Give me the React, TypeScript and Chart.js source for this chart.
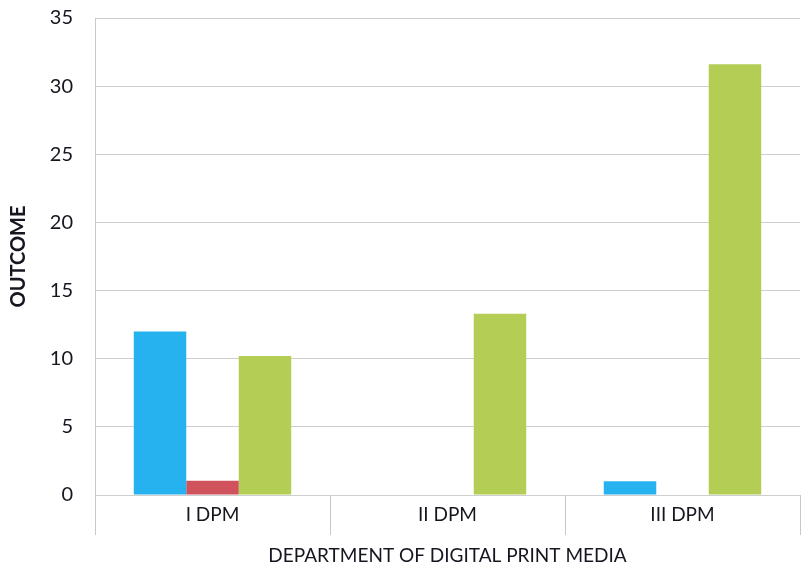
import React, { useEffect, useRef } from "react";
import { Chart, registerables } from "chart.js";

Chart.register(...registerables);

const categories = ["I DPM", "II DPM", "III DPM"];
const seriesBlue = [12, 0, 1.0];
const seriesRed = [1.05, 0, 0];
const seriesGreen = [10.2, 13.3, 31.6];
const yTicks = [0, 5, 10, 15, 20, 25, 30, 35];
const yTitle = "OUTCOME";
const xTitle = "DEPARTMENT OF DIGITAL PRINT MEDIA";

export default function App() {
  const ref = useRef<HTMLCanvasElement | null>(null);
  useEffect(() => {
    if (!ref.current) return;
    const text = "#15161f";
    const font = "Lato, 'Open Sans', sans-serif";
    const chart = new Chart(ref.current, {
      type: "bar",
      data: {
        labels: categories,
        datasets: [
          { label: "A", data: seriesBlue, backgroundColor: "#26b2ee" },
          { label: "B", data: seriesRed, backgroundColor: "#d0525c" },
          { label: "C", data: seriesGreen, backgroundColor: "#b4cd55" },
        ],
      },
      options: {
        animation: false,
        responsive: false,
        maintainAspectRatio: false,
        layout: { padding: { top: 18, right: 1, left: 0, bottom: 0 } },
        plugins: { legend: { display: false }, tooltip: { enabled: false } },
        datasets: { bar: { barPercentage: 1, categoryPercentage: 0.67 } },
        scales: {
          x: {
            grid: {
              offset: true,
              drawOnChartArea: false,
              drawTicks: true,
              tickLength: 40,
              color: "#c8c8c8",
              lineWidth: 1,
            },
            border: { display: false },
            ticks: { color: text, font: { family: font, size: 19 }, padding: -32 },
            title: {
              display: true,
              text: xTitle,
              color: text,
              font: { family: font, size: 19 },
              padding: { top: 4, bottom: 5 },
            },
            afterFit: (s: any) => {
              s.height = 77;
            },
          },
          y: {
            min: 0,
            max: 35,
            afterBuildTicks: (s: any) => {
              s.ticks = yTicks.map((v) => ({ value: v }));
            },
            grid: {
              color: "#cfcfcf",
              lineWidth: 1,
              drawTicks: true,
              tickLength: 20,
              tickColor: "rgba(0,0,0,0)",
            },
            border: { display: true, color: "#c8c8c8" },
            ticks: { color: text, font: { family: font, size: 20 }, padding: 2 },
            title: {
              display: true,
              text: yTitle,
              color: text,
              font: { family: font, size: 20, weight: "bold" },
              padding: { top: 7, bottom: 4 },
            },
            afterFit: (s: any) => {
              s.width = 95;
            },
          },
        },
      },
    });
    return () => chart.destroy();
  }, []);
  return (
    <div style={{ position: "fixed", left: 0, top: 0, width: 801, height: 572, background: "#fff" }}>
      <canvas ref={ref} width={801} height={572} />
    </div>
  );
}
